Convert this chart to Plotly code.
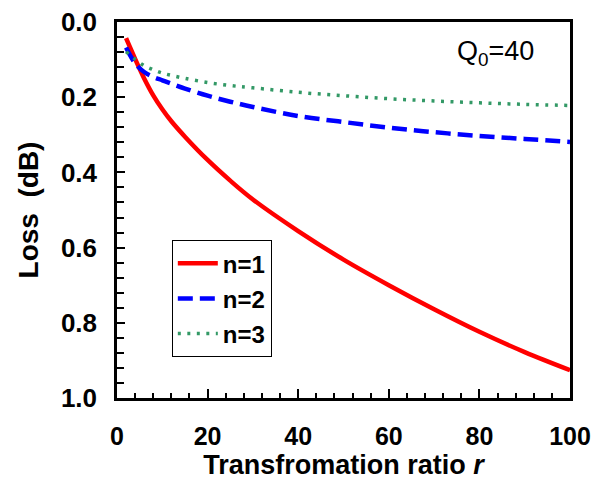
import plotly.graph_objects as go

# Data
r_vals = [2, 4, 6, 8, 10, 12, 15, 20, 25, 30, 40, 50, 60, 70, 80, 90, 100]
loss_n1 = [0.043, 0.098, 0.150, 0.195, 0.232, 0.264, 0.305, 0.367, 0.422, 0.472,
           0.556, 0.632, 0.700, 0.764, 0.824, 0.878, 0.926]
loss_n2 = [0.068, 0.110, 0.133, 0.146, 0.155, 0.164, 0.177, 0.196, 0.212, 0.226,
           0.250, 0.266, 0.281, 0.293, 0.303, 0.311, 0.319]
loss_n3 = [0.079, 0.099, 0.116, 0.127, 0.136, 0.142, 0.150, 0.161, 0.169, 0.175,
           0.187, 0.196, 0.204, 0.210, 0.215, 0.219, 0.222]
series_names = ["n=1", "n=2", "n=3"]
x_ticks = [0, 20, 40, 60, 80, 100]
y_ticks = [0.0, 0.2, 0.4, 0.6, 0.8, 1.0]

FONT = "Liberation Sans, Arial, sans-serif"

fig = go.Figure()
fig.add_trace(go.Scatter(x=r_vals, y=loss_n1, mode="lines", name=series_names[0],
                         legendgroup="a", line=dict(color="#FF0000", width=4.5, shape="spline")))
fig.add_trace(go.Scatter(x=r_vals, y=loss_n2, mode="lines", name=series_names[1],
                         legendgroup="b", line=dict(color="#0000FF", width=4.5, dash="15px,7px", shape="spline")))
fig.add_trace(go.Scatter(x=r_vals, y=loss_n3, mode="lines", name=series_names[2],
                         legendgroup="c", line=dict(color="#339966", width=3.5, dash="3px,6.5px", shape="spline")))

fig.update_layout(
    width=597, height=480,
    margin=dict(l=117, r=27, t=22, b=82),
    paper_bgcolor="white", plot_bgcolor="white",
    font=dict(family=FONT, size=24, color="black"),
    showlegend=True,
    legend=dict(x=0.121, y=0.42, xanchor="left", yanchor="top",
                bordercolor="black", borderwidth=1, bgcolor="white",
                font=dict(family=FONT, size=24, color="black", weight="bold"),
                tracegroupgap=1, itemwidth=40),
    annotations=[dict(text="Q<sub>0</sub>=40", xref="paper", yref="paper",
                      x=0.835, y=0.918, xanchor="center", yanchor="middle",
                      showarrow=False, font=dict(family=FONT, size=27, color="black"))],
)

fig.update_xaxes(
    range=[0, 100], tickvals=x_ticks, ticktext=[str(v) for v in x_ticks],
    showgrid=False, zeroline=False, automargin=False,
    showline=True, linecolor="black", linewidth=2.5, mirror=True,
    ticks="inside", ticklen=9, tickwidth=2, tickcolor="black",
    minor=dict(dtick=4, ticks="inside", ticklen=5, tickwidth=2, tickcolor="black", showgrid=False),
    tickfont=dict(family=FONT, size=25, color="black", weight="bold"),
    ticklabelstandoff=14,
    title=dict(text="<b>Transfromation ratio <i>r</i></b>", standoff=5,
               font=dict(family=FONT, size=27, color="black")),
)
fig.update_yaxes(
    range=[1.0, 0.0], tickvals=y_ticks, ticktext=[f"{v:.1f}" for v in y_ticks],
    showgrid=False, zeroline=False, automargin=False,
    showline=True, linecolor="black", linewidth=2.5, mirror=True,
    ticks="inside", ticklen=8, tickwidth=2, tickcolor="black",
    minor=dict(dtick=0.04, ticks="inside", ticklen=7, tickwidth=2, tickcolor="black", showgrid=False),
    tickfont=dict(family=FONT, size=26, color="black", weight="bold"),
    ticklabelstandoff=12,
    title=dict(text="<b>Loss\u00a0\u00a0(dB)</b>", standoff=15,
               font=dict(family=FONT, size=28, color="black")),
)

fig.write_html("out.html", config={"displayModeBar": False},
               post_script="document.body.style.margin='0';")
